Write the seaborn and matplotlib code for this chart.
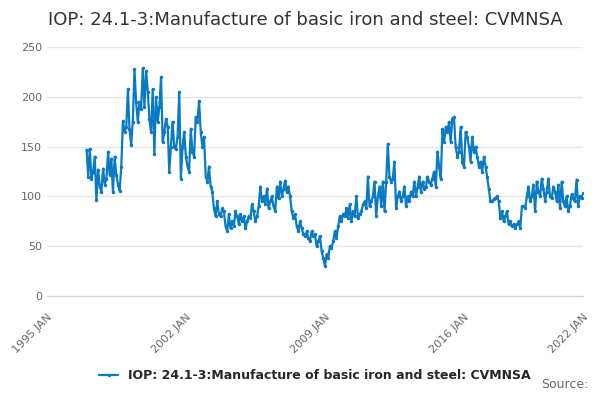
import matplotlib
matplotlib.use('Agg')
import matplotlib.pyplot as plt
import pandas as pd
import seaborn as sns

title = 'IOP: 24.1-3:Manufacture of basic iron and steel: CVMNSA'
start_month = '1997-01'
values = [
    147, 120, 148, 118, 125, 140, 96, 127, 110, 105, 128, 112,
    118, 145, 122, 138, 104, 140, 122, 112, 106, 130, 176, 165,
    170, 208, 168, 152, 175, 228, 195, 175, 195, 188, 229, 190,
    226, 205, 178, 165, 208, 143, 200, 175, 190, 220, 155, 165,
    178, 170, 125, 150, 175, 150, 148, 160, 205, 118, 150, 165,
    140, 130, 125, 168, 145, 140, 180, 175, 196, 165, 150, 160,
    120, 115, 130, 110, 105, 88, 80, 95, 82, 80, 88, 85,
    70, 65, 82, 68, 75, 70, 85, 80, 72, 82, 75, 80,
    68, 75, 80, 78, 92, 85, 75, 80, 90, 110, 95, 100,
    92, 108, 88, 95, 100, 90, 85, 110, 98, 115, 100, 108,
    116, 104, 110, 100, 85, 78, 82, 70, 65, 75, 68, 62,
    60, 65, 58, 55, 65, 60, 62, 50, 55, 60, 45, 38,
    30, 42, 38, 50, 48, 55, 65, 58, 70, 80, 75, 82,
    80, 88, 78, 92, 75, 85, 80, 100, 78, 82, 85, 92,
    95, 88, 120, 90, 95, 100, 115, 80, 100, 110, 90, 115,
    85, 115, 153, 120, 115, 118, 135, 88, 100, 105, 95, 100,
    110, 90, 100, 95, 105, 100, 115, 100, 110, 120, 105, 115,
    108, 110, 120, 115, 112, 118, 125, 110, 145, 130, 118, 168,
    155, 170, 165, 175, 155, 178, 180, 150, 140, 145, 170, 135,
    130, 165, 160, 150, 135, 160, 145, 150, 140, 130, 135, 125,
    140, 130, 120, 108, 95, 95, 97, 98, 100, 95, 78, 85,
    75, 80, 85, 72, 75, 70, 72, 68, 72, 75, 68, 90,
    90, 88, 100, 110, 95, 100, 112, 85, 115, 105, 100, 118,
    108, 95, 105, 118, 100, 98, 110, 105, 95, 112, 88, 115,
    95, 90, 100, 85, 90, 102, 98, 95, 117, 90, 100, 98,
    103,
]
tick_years = [1995, 2002, 2009, 2016, 2022]

df = pd.DataFrame({
    'date': pd.date_range(start_month, periods=len(values), freq='MS'),
    'value': values,
})

sns.set_style('white')
plt.rcParams['font.family'] = ['DejaVu Sans']

fig, ax = plt.subplots(figsize=(6, 4), dpi=100)
fig.subplots_adjust(left=0.078, right=0.972, top=0.882, bottom=0.26)

sns.lineplot(data=df, x='date', y='value', ax=ax, color='#0a7bc2',
             linewidth=1.6, marker='o', markersize=2.5, markeredgewidth=0,
             label=title)

ax.set_xlim(pd.Timestamp('1995-01-01'), pd.Timestamp('2022-01-01'))
ax.set_ylim(0, 250)
ax.set_yticks([0, 50, 100, 150, 200, 250])
ax.set_xticks([pd.Timestamp(f'{y}-01-01') for y in tick_years])
ax.set_xticklabels([f'{y} JAN' for y in tick_years], rotation=45, ha='right',
                   rotation_mode='anchor')
ax.tick_params(axis='both', labelsize=8, colors='#666666', length=0)
ax.tick_params(axis='x', length=8, color='#ccd6eb', direction='out')
ax.grid(axis='y', color='#e6e6e6', linewidth=1)
for s in ['top', 'right', 'left']:
    ax.spines[s].set_visible(False)
ax.spines['bottom'].set_color('#ccd6eb')
ax.set_xlabel('')
ax.set_ylabel('')

ax.legend(loc='upper center', bbox_to_anchor=(0.5, -0.25), frameon=False,
          prop={'size': 9, 'weight': 'bold'}, handlelength=1.5)
fig.text(0.08, 0.95, title, fontsize=13, color='#333333', va='center')
fig.text(0.98, 0.03, 'Source:', fontsize=9, color='#666666', ha='right')

fig.savefig('out.png', dpi=100)
